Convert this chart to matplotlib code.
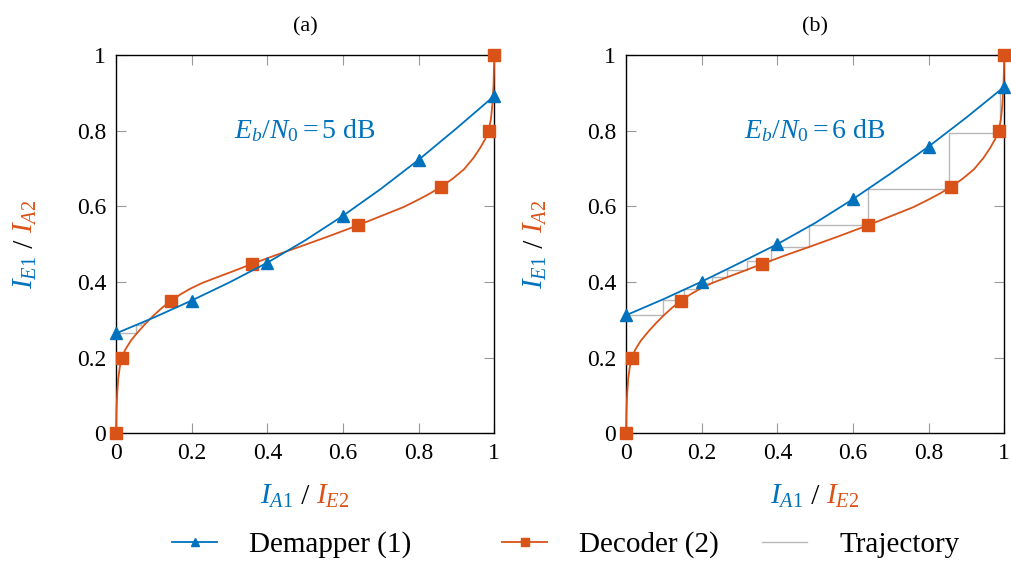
import numpy as np
import matplotlib
matplotlib.use('Agg')
import matplotlib.pyplot as plt
from matplotlib.lines import Line2D

plt.rcParams['font.family'] = ['Liberation Serif', 'DejaVu Serif']
plt.rcParams['mathtext.fontset'] = 'custom'
plt.rcParams['mathtext.rm'] = 'Liberation Serif'
plt.rcParams['mathtext.it'] = 'Liberation Serif:italic'
plt.rcParams['mathtext.bf'] = 'Liberation Serif:bold'

# demapper EXIT curves (x = I_A1, y = I_E1)
dem_x = [0, 0.1, 0.2, 0.3, 0.4, 0.5, 0.6, 0.7, 0.8, 0.9, 1.0]
dem_a = [0.264, 0.306, 0.351, 0.399, 0.451, 0.510, 0.575, 0.646, 0.723, 0.806, 0.892]
dem_b = [0.312, 0.355, 0.401, 0.450, 0.500, 0.556, 0.619, 0.687, 0.758, 0.835, 0.916]
dem_marks = [0, 2, 4, 6, 8, 10]

# decoder curve (x = I_E2, y = I_A2), same in both panels
dec_x = [0, 0.001, 0.002, 0.0035, 0.006, 0.01, 0.015, 0.025, 0.04, 0.06, 0.08, 0.1,
         0.122, 0.145, 0.17, 0.194, 0.227, 0.266, 0.319, 0.36, 0.42, 0.485, 0.56,
         0.64, 0.7, 0.76, 0.8, 0.83, 0.86, 0.89, 0.92, 0.945, 0.963, 0.976, 0.985,
         0.991, 0.995, 0.998, 1.0]
dec_y = [0, 0.05, 0.08, 0.11, 0.145, 0.175, 0.2, 0.222, 0.246, 0.27, 0.292, 0.312,
         0.332, 0.35, 0.367, 0.381, 0.397, 0.412, 0.432, 0.448, 0.47, 0.493, 0.52,
         0.55, 0.574, 0.598, 0.618, 0.634, 0.652, 0.673, 0.698, 0.728, 0.755, 0.778, 0.8,
         0.83, 0.87, 0.92, 1.0]
dec_marks = [0, 6, 13, 19, 23, 28, 34, 38]

# decoding trajectories (staircase corners)
traj_a_x = [0, 0.052, 0.066, 0.074]
traj_a_y = [0.266, 0.285, 0.291, 0.291]
traj_b_x = [0, 0.099, 0.152, 0.194, 0.227, 0.266, 0.319, 0.383, 0.485, 0.641, 0.855, 0.989, 0.996]
traj_b_y = [0.312, 0.352, 0.381, 0.397, 0.412, 0.432, 0.456, 0.493, 0.550, 0.645, 0.793, 0.900, 0.900]

ticks = [0, 0.2, 0.4, 0.6, 0.8, 1.0]
tick_labels = ['0', '0.2', '0.4', '0.6', '0.8', '1']
snr_a = r'$E_b/N_0 = 5\ \mathrm{dB}$'
snr_b = r'$E_b/N_0 = 6\ \mathrm{dB}$'
legend_labels = ['Demapper (1)', 'Decoder (2)', 'Trajectory']

blue = '#0072BD'
orange = '#D95319'
gray = '#b8b8b8'

W, H = 1011, 566
fig = plt.figure(figsize=(W / 100, H / 100), dpi=100)
ax_a = fig.add_axes([116 / W, 1 - 433.3 / H, 378.3 / W, 378.3 / H])
ax_b = fig.add_axes([626 / W, 1 - 433.3 / H, 378.3 / W, 378.3 / H])


def panel(ax, dem, tx, ty, snr, title):
    ax.step(tx, ty, where='post', color=gray, lw=1.0)
    ax.plot(dec_x, dec_y, color=orange, lw=1.3, marker='s', ms=8,
            markevery=dec_marks, clip_on=False, zorder=3)
    ax.plot(dem_x, dem, color=blue, lw=1.3, marker='^', ms=8,
            markevery=dem_marks, clip_on=False, zorder=4)
    ax.set_xlim(0, 1)
    ax.set_ylim(0, 1)
    ax.set_xticks(ticks)
    ax.set_xticklabels(tick_labels)
    ax.set_yticks(ticks)
    ax.set_yticklabels(tick_labels)
    ax.tick_params(direction='in', length=7, width=0.8, color='#999999',
                   top=True, right=True, labelsize=17, pad=7)
    for s in ax.spines.values():
        s.set_linewidth(1.0)
    ax.text(0.5, 0.8, snr, color=blue, fontsize=20, ha='center', va='center',
            transform=ax.transAxes)
    ax.set_title(title, fontsize=16, pad=17)


panel(ax_a, dem_a, traj_a_x, traj_a_y, snr_a, '(a)')
panel(ax_b, dem_b, traj_b_x, traj_b_y, snr_b, '(b)')


def color_label(cx, cy, parts, rotation=0):
    texts = [fig.text(0, 0, s, color=c, fontsize=21, ha='left', va='baseline',
                      rotation=rotation, rotation_mode='anchor') for s, c in parts]
    r = fig.canvas.get_renderer()
    sizes = []
    for t in texts:
        bb = t.get_window_extent(r)
        sizes.append(bb.width if rotation == 0 else bb.height)
    pos = -sum(sizes) / 2
    for t, s in zip(texts, sizes):
        if rotation == 0:
            t.set_position(((cx + pos) / W, 1 - cy / H))
        else:
            t.set_position((cx / W, (H - cy + pos) / H))
        pos += s


xl = [(r'$I_{A1}$', blue), (' / ', 'black'), (r'$I_{E2}$', orange)]
yl = [(r'$I_{E1}$', blue), (' / ', 'black'), (r'$I_{A2}$', orange)]
fig.canvas.draw()
color_label(305, 504, xl)
color_label(815, 504, xl)
color_label(33, 244, yl, rotation=90)
color_label(543, 244, yl, rotation=90)

handles = [Line2D([], [], color=blue, lw=1.3, marker='^', ms=8),
           Line2D([], [], color=orange, lw=1.3, marker='s', ms=8),
           Line2D([], [], color=gray, lw=1.0)]
# one legend per entry so the uneven spacing of the original can be kept
for h, lab, x in zip(handles, legend_labels, [172, 502, 762]):
    fig.legend([h], [lab], loc='center left', bbox_to_anchor=(x / W, 1 - 545 / H),
               frameon=False, fontsize=21, handlelength=1.55, handletextpad=1.1,
               borderpad=0, borderaxespad=0, markerscale=0.7)

fig.savefig('out.png', dpi=100)
